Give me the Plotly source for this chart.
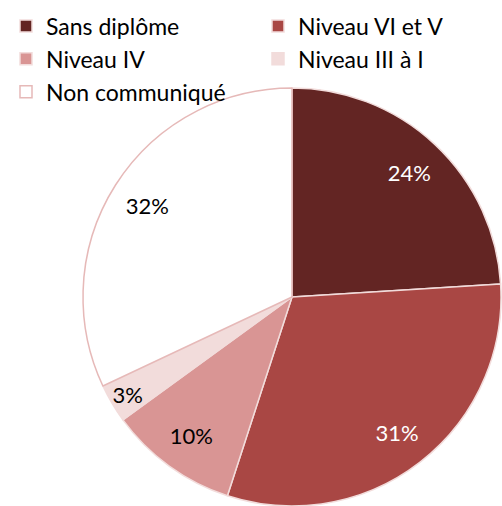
import plotly.graph_objects as go

labels = ["Sans diplôme", "Niveau VI et V", "Niveau IV", "Niveau III à I", "Non communiqué"]
values = [24, 31, 10, 3, 32]
colors = ["#632523", "#A94744", "#D99594", "#F2DCDB", "#FFFFFF"]
line_colors = ["#F2DCDB", "#F2DCDB", "#F2DCDB", "#F2DCDB", "#E6B9B8"]
text_colors = ["#FFFFFF", "#FFFFFF", "#000000", "#000000", "#000000"]

FONT = "Lato, Open Sans, sans-serif"
W, H = 502, 506
dom_x = [82 / W, 1.0]
dom_y = [0.0, 418 / H]

# the slices
pie = go.Pie(
    labels=labels, values=values, sort=False, direction="clockwise", rotation=0,
    marker=dict(colors=colors, line=dict(color=line_colors, width=1.5)),
    textinfo="none", hoverinfo="label+percent",
    domain=dict(x=dom_x, y=dom_y), showlegend=True,
)

# percentage labels, placed in an outer ring (same data, transparent fill)
labels_ring = go.Pie(
    labels=labels, values=values, sort=False, direction="clockwise", rotation=0,
    hole=0.64,
    marker=dict(colors=["rgba(0,0,0,0)"] * len(labels), line=dict(width=0)),
    textinfo="percent", texttemplate="%{percent:.0%}", textposition="inside",
    insidetextorientation="horizontal",
    textfont=dict(family=FONT, size=22, color=text_colors),
    domain=dict(x=dom_x, y=dom_y), showlegend=False, hoverinfo="skip",
)

fig = go.Figure([pie, labels_ring])

fig.update_layout(
    width=W, height=H,
    margin=dict(l=0, r=0, t=0, b=0, autoexpand=False),
    paper_bgcolor="white",
    showlegend=True,
    uniformtext=dict(minsize=22, mode="show"),
    legend=dict(orientation="h", x=6 / W, y=1 - 4.5 / H,
                xanchor="left", yanchor="top", entrywidth=207, entrywidthmode="pixels",
                font=dict(family=FONT, size=23, color="#000000"),
                traceorder="normal", itemclick=False, bgcolor="rgba(0,0,0,0)"),
)

fig.write_html(
    "out.html",
    config={"displayModeBar": False},
    post_script="document.body.style.margin='0';document.body.style.overflow='hidden';",
)
